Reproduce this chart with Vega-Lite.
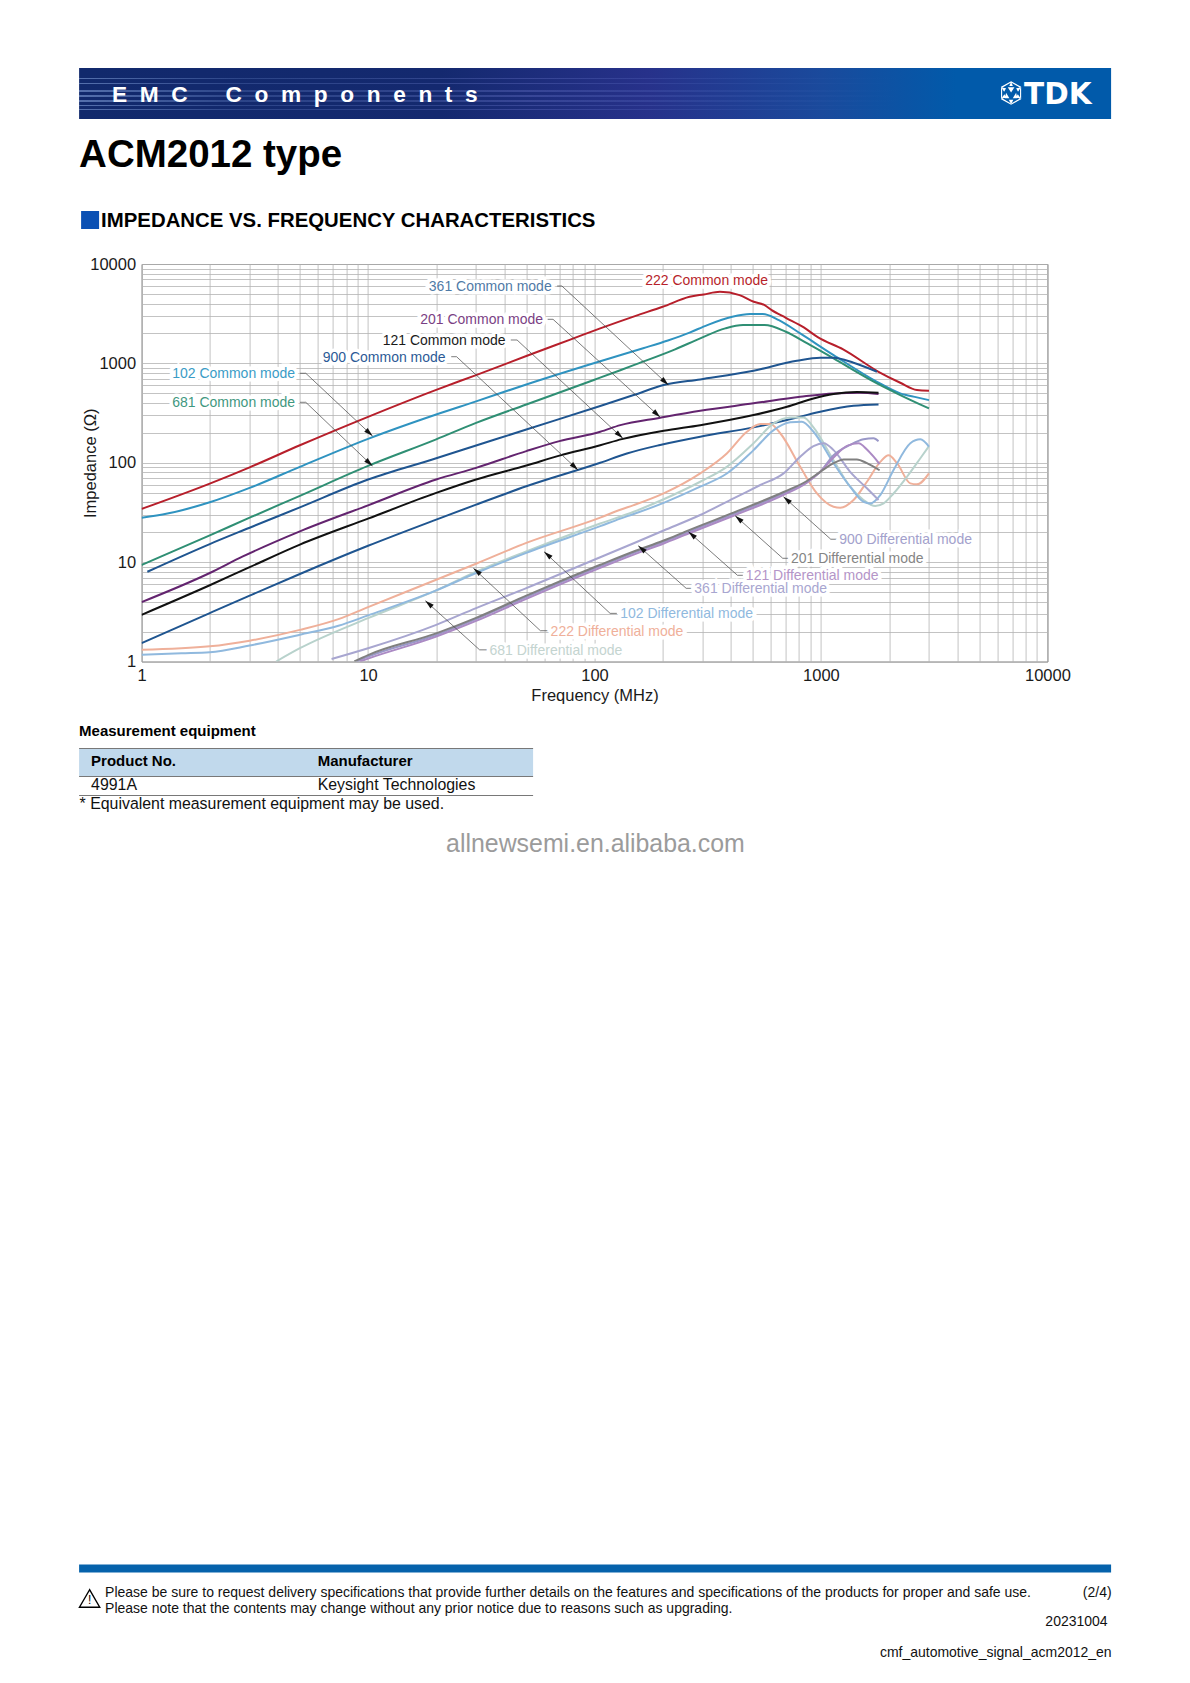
{"$schema":"https://vega.github.io/schema/vega-lite/v6.json","background":"white","padding":{"left":76.6,"top":68,"right":0,"bottom":0},"spacing":0,"bounds":"flush","config":{"view":{"stroke":null},"font":"Liberation Sans"},
"datasets":{
"curves":[
{"s":"222 Common mode","f":1,"z":34.3},{"s":"222 Common mode","f":2,"z":61.7},{"s":"222 Common mode","f":3,"z":90},{"s":"222 Common mode","f":5,"z":150},{"s":"222 Common mode","f":10,"z":290},{"s":"222 Common mode","f":20,"z":542},{"s":"222 Common mode","f":30,"z":762},{"s":"222 Common mode","f":50,"z":1185},{"s":"222 Common mode","f":78.7,"z":1745},{"s":"222 Common mode","f":106,"z":2250},{"s":"222 Common mode","f":152,"z":3010},{"s":"222 Common mode","f":200,"z":3710},{"s":"222 Common mode","f":263,"z":4680},{"s":"222 Common mode","f":304,"z":4945},{"s":"222 Common mode","f":358,"z":5250},{"s":"222 Common mode","f":437,"z":4865},{"s":"222 Common mode","f":505,"z":4170},{"s":"222 Common mode","f":564,"z":3860},{"s":"222 Common mode","f":606,"z":3440},{"s":"222 Common mode","f":700,"z":2875},{"s":"222 Common mode","f":840,"z":2300},{"s":"222 Common mode","f":972,"z":1827},{"s":"222 Common mode","f":1253,"z":1383},{"s":"222 Common mode","f":1796,"z":823},{"s":"222 Common mode","f":2240,"z":638},{"s":"222 Common mode","f":2654,"z":539},{"s":"222 Common mode","f":3000,"z":530},
{"s":"102 Common mode","f":1,"z":28},{"s":"102 Common mode","f":1.3,"z":30.8},{"s":"102 Common mode","f":2,"z":40},{"s":"102 Common mode","f":3,"z":55.8},{"s":"102 Common mode","f":5,"z":91},{"s":"102 Common mode","f":10,"z":174},{"s":"102 Common mode","f":20,"z":306},{"s":"102 Common mode","f":30,"z":415},{"s":"102 Common mode","f":50,"z":614},{"s":"102 Common mode","f":100,"z":1010},{"s":"102 Common mode","f":164,"z":1420},{"s":"102 Common mode","f":211,"z":1700},{"s":"102 Common mode","f":263,"z":2040},{"s":"102 Common mode","f":315,"z":2430},{"s":"102 Common mode","f":406,"z":2945},{"s":"102 Common mode","f":487,"z":3133},{"s":"102 Common mode","f":553,"z":3133},{"s":"102 Common mode","f":652,"z":2727},{"s":"102 Common mode","f":810,"z":2000},{"s":"102 Common mode","f":1137,"z":1212},{"s":"102 Common mode","f":1768,"z":653},{"s":"102 Common mode","f":2240,"z":499},{"s":"102 Common mode","f":2654,"z":455},{"s":"102 Common mode","f":3000,"z":427},
{"s":"681 Common mode","f":1,"z":9.35},{"s":"681 Common mode","f":2,"z":18.6},{"s":"681 Common mode","f":3,"z":28},{"s":"681 Common mode","f":5,"z":46.5},{"s":"681 Common mode","f":10,"z":93},{"s":"681 Common mode","f":20,"z":172},{"s":"681 Common mode","f":30,"z":252},{"s":"681 Common mode","f":50,"z":386},{"s":"681 Common mode","f":100,"z":685},{"s":"681 Common mode","f":130,"z":854},{"s":"681 Common mode","f":150,"z":965},{"s":"681 Common mode","f":227,"z":1383},{"s":"681 Common mode","f":293,"z":1784},{"s":"681 Common mode","f":378,"z":2250},{"s":"681 Common mode","f":453,"z":2430},{"s":"681 Common mode","f":564,"z":2430},{"s":"681 Common mode","f":700,"z":2080},{"s":"681 Common mode","f":871,"z":1587},{"s":"681 Common mode","f":1137,"z":1122},{"s":"681 Common mode","f":1768,"z":629},{"s":"681 Common mode","f":2240,"z":480},{"s":"681 Common mode","f":3000,"z":352},
{"s":"361 Common mode","f":1.06,"z":8},{"s":"361 Common mode","f":2,"z":15.2},{"s":"361 Common mode","f":3,"z":22.2},{"s":"361 Common mode","f":5,"z":35.6},{"s":"361 Common mode","f":10,"z":67.8},{"s":"361 Common mode","f":20,"z":111},{"s":"361 Common mode","f":30,"z":149},{"s":"361 Common mode","f":50,"z":216},{"s":"361 Common mode","f":106,"z":372},{"s":"361 Common mode","f":149,"z":480},{"s":"361 Common mode","f":202,"z":605},{"s":"361 Common mode","f":293,"z":690},{"s":"361 Common mode","f":504,"z":843},{"s":"361 Common mode","f":783,"z":1062},{"s":"361 Common mode","f":993,"z":1138},{"s":"361 Common mode","f":1137,"z":1138},{"s":"361 Common mode","f":1393,"z":1014},{"s":"361 Common mode","f":1768,"z":823},
{"s":"201 Common mode","f":1,"z":3.96},{"s":"201 Common mode","f":2,"z":7.77},{"s":"201 Common mode","f":2.8,"z":11.4},{"s":"201 Common mode","f":5,"z":20.4},{"s":"201 Common mode","f":10,"z":37.3},{"s":"201 Common mode","f":20,"z":67.8},{"s":"201 Common mode","f":30,"z":88.8},{"s":"201 Common mode","f":50,"z":131},{"s":"201 Common mode","f":70,"z":165},{"s":"201 Common mode","f":106,"z":205},{"s":"201 Common mode","f":130,"z":239},{"s":"201 Common mode","f":195,"z":284},{"s":"201 Common mode","f":293,"z":334},{"s":"201 Common mode","f":504,"z":396},{"s":"201 Common mode","f":810,"z":461},{"s":"201 Common mode","f":1137,"z":499},{"s":"201 Common mode","f":1492,"z":507},{"s":"201 Common mode","f":1796,"z":491},
{"s":"121 Common mode","f":1,"z":2.95},{"s":"121 Common mode","f":2,"z":5.85},{"s":"121 Common mode","f":3,"z":8.9},{"s":"121 Common mode","f":5,"z":15},{"s":"121 Common mode","f":10,"z":27.4},{"s":"121 Common mode","f":20,"z":49.7},{"s":"121 Common mode","f":30,"z":67.8},{"s":"121 Common mode","f":50,"z":93.7},{"s":"121 Common mode","f":70,"z":118},{"s":"121 Common mode","f":106,"z":150},{"s":"121 Common mode","f":132,"z":173},{"s":"121 Common mode","f":202,"z":210},{"s":"121 Common mode","f":293,"z":239},{"s":"121 Common mode","f":504,"z":302},{"s":"121 Common mode","f":708,"z":366},{"s":"121 Common mode","f":927,"z":444},{"s":"121 Common mode","f":1137,"z":491},{"s":"121 Common mode","f":1442,"z":514},{"s":"121 Common mode","f":1796,"z":507},
{"s":"900 Common mode","f":1,"z":1.53},{"s":"900 Common mode","f":2,"z":3.07},{"s":"900 Common mode","f":3,"z":4.6},{"s":"900 Common mode","f":5,"z":7.6},{"s":"900 Common mode","f":10,"z":14.6},{"s":"900 Common mode","f":20,"z":26.8},{"s":"900 Common mode","f":30,"z":37.9},{"s":"900 Common mode","f":50,"z":58},{"s":"900 Common mode","f":106,"z":100},{"s":"900 Common mode","f":139,"z":124},{"s":"900 Common mode","f":195,"z":151},{"s":"900 Common mode","f":293,"z":183},{"s":"900 Common mode","f":504,"z":227},{"s":"900 Common mode","f":708,"z":269},{"s":"900 Common mode","f":993,"z":326},{"s":"900 Common mode","f":1393,"z":374},{"s":"900 Common mode","f":1796,"z":386},
{"s":"222 Differential mode","f":1,"z":1.31},{"s":"222 Differential mode","f":2,"z":1.42},{"s":"222 Differential mode","f":3,"z":1.62},{"s":"222 Differential mode","f":5,"z":2.08},{"s":"222 Differential mode","f":7.4,"z":2.67},{"s":"222 Differential mode","f":10,"z":3.53},{"s":"222 Differential mode","f":20,"z":6.65},{"s":"222 Differential mode","f":30,"z":9.64},{"s":"222 Differential mode","f":50,"z":15.6},{"s":"222 Differential mode","f":106,"z":28},{"s":"222 Differential mode","f":130,"z":33.7},{"s":"222 Differential mode","f":149,"z":37.5},{"s":"222 Differential mode","f":202,"z":49.2},{"s":"222 Differential mode","f":293,"z":78.2},{"s":"222 Differential mode","f":384,"z":124},{"s":"222 Differential mode","f":471,"z":205},{"s":"222 Differential mode","f":540,"z":245},{"s":"222 Differential mode","f":597,"z":245},{"s":"222 Differential mode","f":661,"z":198},{"s":"222 Differential mode","f":810,"z":91},{"s":"222 Differential mode","f":960,"z":49.2},{"s":"222 Differential mode","f":1137,"z":36.1},{"s":"222 Differential mode","f":1217,"z":35.3},{"s":"222 Differential mode","f":1393,"z":42.2},{"s":"222 Differential mode","f":1596,"z":64.4},{"s":"222 Differential mode","f":1828,"z":102},{"s":"222 Differential mode","f":1989,"z":119},{"s":"222 Differential mode","f":2168,"z":99},{"s":"222 Differential mode","f":2482,"z":62},{"s":"222 Differential mode","f":2654,"z":60.6},{"s":"222 Differential mode","f":3000,"z":78.2},
{"s":"681 Differential mode","f":3.93,"z":1},{"s":"681 Differential mode","f":5,"z":1.36},{"s":"681 Differential mode","f":10,"z":2.73},{"s":"681 Differential mode","f":20,"z":5.19},{"s":"681 Differential mode","f":30,"z":8},{"s":"681 Differential mode","f":50,"z":12.8},{"s":"681 Differential mode","f":106,"z":24.5},{"s":"681 Differential mode","f":149,"z":32.1},{"s":"681 Differential mode","f":202,"z":42.9},{"s":"681 Differential mode","f":293,"z":64.4},{"s":"681 Differential mode","f":384,"z":91},{"s":"681 Differential mode","f":504,"z":157},{"s":"681 Differential mode","f":618,"z":249},{"s":"681 Differential mode","f":732,"z":286},{"s":"681 Differential mode","f":838,"z":286},{"s":"681 Differential mode","f":927,"z":227},{"s":"681 Differential mode","f":1137,"z":106},{"s":"681 Differential mode","f":1346,"z":57.4},{"s":"681 Differential mode","f":1542,"z":42.2},{"s":"681 Differential mode","f":1738,"z":36.7},{"s":"681 Differential mode","f":1891,"z":39},{"s":"681 Differential mode","f":2092,"z":49},{"s":"681 Differential mode","f":2399,"z":72.3},{"s":"681 Differential mode","f":2748,"z":111},{"s":"681 Differential mode","f":3000,"z":147},
{"s":"102 Differential mode","f":1,"z":1.17},{"s":"102 Differential mode","f":1.5,"z":1.21},{"s":"102 Differential mode","f":2,"z":1.24},{"s":"102 Differential mode","f":3,"z":1.45},{"s":"102 Differential mode","f":5,"z":1.86},{"s":"102 Differential mode","f":7.4,"z":2.29},{"s":"102 Differential mode","f":10,"z":2.91},{"s":"102 Differential mode","f":20,"z":5.19},{"s":"102 Differential mode","f":30,"z":7.77},{"s":"102 Differential mode","f":50,"z":12.4},{"s":"102 Differential mode","f":106,"z":23},{"s":"102 Differential mode","f":130,"z":27.4},{"s":"102 Differential mode","f":149,"z":30.5},{"s":"102 Differential mode","f":202,"z":39.5},{"s":"102 Differential mode","f":293,"z":57.4},{"s":"102 Differential mode","f":384,"z":78},{"s":"102 Differential mode","f":504,"z":134},{"s":"102 Differential mode","f":618,"z":213},{"s":"102 Differential mode","f":732,"z":255},{"s":"102 Differential mode","f":824,"z":259},{"s":"102 Differential mode","f":927,"z":205},{"s":"102 Differential mode","f":1137,"z":99},{"s":"102 Differential mode","f":1346,"z":57.4},{"s":"102 Differential mode","f":1542,"z":40.5},{"s":"102 Differential mode","f":1651,"z":39},{"s":"102 Differential mode","f":1828,"z":47.3},{"s":"102 Differential mode","f":2092,"z":84.4},{"s":"102 Differential mode","f":2482,"z":157},{"s":"102 Differential mode","f":2748,"z":172},{"s":"102 Differential mode","f":3000,"z":145},
{"s":"900 Differential mode","f":6.9,"z":1.06},{"s":"900 Differential mode","f":10,"z":1.36},{"s":"900 Differential mode","f":20,"z":2.34},{"s":"900 Differential mode","f":30,"z":3.45},{"s":"900 Differential mode","f":50,"z":5.48},{"s":"900 Differential mode","f":106,"z":11.2},{"s":"900 Differential mode","f":149,"z":15.5},{"s":"900 Differential mode","f":202,"z":20.8},{"s":"900 Differential mode","f":293,"z":29.8},{"s":"900 Differential mode","f":411,"z":43.8},{"s":"900 Differential mode","f":540,"z":59.7},{"s":"900 Differential mode","f":684,"z":78.2},{"s":"900 Differential mode","f":810,"z":115},{"s":"900 Differential mode","f":927,"z":147},{"s":"900 Differential mode","f":1028,"z":157},{"s":"900 Differential mode","f":1137,"z":134},{"s":"900 Differential mode","f":1346,"z":81},{"s":"900 Differential mode","f":1596,"z":55.3},{"s":"900 Differential mode","f":1796,"z":42.2},
{"s":"361 Differential mode","f":8.9,"z":1},{"s":"361 Differential mode","f":10,"z":1.12},{"s":"361 Differential mode","f":20,"z":1.85},{"s":"361 Differential mode","f":30,"z":2.67},{"s":"361 Differential mode","f":50,"z":4.45},{"s":"361 Differential mode","f":106,"z":9.1},{"s":"361 Differential mode","f":149,"z":12.4},{"s":"361 Differential mode","f":202,"z":16},{"s":"361 Differential mode","f":260,"z":20.2},{"s":"361 Differential mode","f":411,"z":30.5},{"s":"361 Differential mode","f":684,"z":49.2},{"s":"361 Differential mode","f":867,"z":64.4},{"s":"361 Differential mode","f":993,"z":81},{"s":"361 Differential mode","f":1137,"z":119},{"s":"361 Differential mode","f":1346,"z":151},{"s":"361 Differential mode","f":1542,"z":172},{"s":"361 Differential mode","f":1708,"z":176},{"s":"361 Differential mode","f":1796,"z":165},
{"s":"121 Differential mode","f":9.2,"z":1},{"s":"121 Differential mode","f":10,"z":1.07},{"s":"121 Differential mode","f":20,"z":1.78},{"s":"121 Differential mode","f":30,"z":2.56},{"s":"121 Differential mode","f":50,"z":4.27},{"s":"121 Differential mode","f":106,"z":8.75},{"s":"121 Differential mode","f":149,"z":11.9},{"s":"121 Differential mode","f":202,"z":15.4},{"s":"121 Differential mode","f":260,"z":19.4},{"s":"121 Differential mode","f":411,"z":29.3},{"s":"121 Differential mode","f":684,"z":47.4},{"s":"121 Differential mode","f":867,"z":63},{"s":"121 Differential mode","f":993,"z":81},{"s":"121 Differential mode","f":1137,"z":113},{"s":"121 Differential mode","f":1303,"z":148},{"s":"121 Differential mode","f":1466,"z":157},{"s":"121 Differential mode","f":1596,"z":136},{"s":"121 Differential mode","f":1708,"z":115},{"s":"121 Differential mode","f":1815,"z":97},
{"s":"201 Differential mode","f":8.7,"z":1},{"s":"201 Differential mode","f":10,"z":1.16},{"s":"201 Differential mode","f":20,"z":1.92},{"s":"201 Differential mode","f":30,"z":2.75},{"s":"201 Differential mode","f":50,"z":4.6},{"s":"201 Differential mode","f":106,"z":9.4},{"s":"201 Differential mode","f":149,"z":12.8},{"s":"201 Differential mode","f":202,"z":16.5},{"s":"201 Differential mode","f":260,"z":20.9},{"s":"201 Differential mode","f":411,"z":31.5},{"s":"201 Differential mode","f":684,"z":50.8},{"s":"201 Differential mode","f":867,"z":65.5},{"s":"201 Differential mode","f":993,"z":81},{"s":"201 Differential mode","f":1137,"z":99},{"s":"201 Differential mode","f":1259,"z":108},{"s":"201 Differential mode","f":1442,"z":108},{"s":"201 Differential mode","f":1596,"z":99},{"s":"201 Differential mode","f":1815,"z":84}
],
"leaders":[
{"n":"361 CM","k":"C","o":1,"f":68.4,"z":6005},{"n":"361 CM","k":"C","o":2,"f":71.8,"z":6005},{"n":"361 CM","k":"C","o":3,"f":212,"z":606},
{"n":"201 CM","k":"C","o":1,"f":62.1,"z":2777},{"n":"201 CM","k":"C","o":2,"f":65.6,"z":2777},{"n":"201 CM","k":"C","o":3,"f":195,"z":287},
{"n":"121 CM","k":"C","o":1,"f":42.7,"z":1719},{"n":"121 CM","k":"C","o":2,"f":45.5,"z":1719},{"n":"121 CM","k":"C","o":3,"f":133.4,"z":176},
{"n":"900 CM","k":"C","o":1,"f":23.3,"z":1167},{"n":"900 CM","k":"C","o":2,"f":24.6,"z":1167},{"n":"900 CM","k":"C","o":3,"f":84.6,"z":84.5},
{"n":"102 CM","k":"C","o":1,"f":5.01,"z":795},{"n":"102 CM","k":"C","o":2,"f":5.31,"z":795},{"n":"102 CM","k":"C","o":3,"f":10.47,"z":186},
{"n":"681 CM","k":"C","o":1,"f":5.01,"z":406},{"n":"681 CM","k":"C","o":2,"f":5.31,"z":406},{"n":"681 CM","k":"C","o":3,"f":10.47,"z":92.7},
{"n":"222 DM","k":"D","o":1,"f":62.1,"z":2.04},{"n":"222 DM","k":"D","o":2,"f":57.7,"z":2.04},{"n":"222 DM","k":"D","o":3,"f":29.2,"z":8.67},
{"n":"681 DM","k":"D","o":1,"f":33.5,"z":1.31},{"n":"681 DM","k":"D","o":2,"f":31.1,"z":1.31},{"n":"681 DM","k":"D","o":3,"f":17.9,"z":4.09},
{"n":"102 DM","k":"D","o":1,"f":125.5,"z":3.05},{"n":"102 DM","k":"D","o":2,"f":117.2,"z":3.05},{"n":"102 DM","k":"D","o":3,"f":59.9,"z":12.73},
{"n":"361 DM","k":"D","o":1,"f":269,"z":5.45},{"n":"361 DM","k":"D","o":2,"f":254,"z":5.45},{"n":"361 DM","k":"D","o":3,"f":156,"z":14.63},
{"n":"121 DM","k":"D","o":1,"f":452,"z":7.37},{"n":"121 DM","k":"D","o":2,"f":428,"z":7.37},{"n":"121 DM","k":"D","o":3,"f":260,"z":20.2},
{"n":"201 DM","k":"D","o":1,"f":718,"z":10.93},{"n":"201 DM","k":"D","o":2,"f":678,"z":10.93},{"n":"201 DM","k":"D","o":3,"f":418,"z":29.3},
{"n":"900 DM","k":"D","o":1,"f":1175,"z":17},{"n":"900 DM","k":"D","o":2,"f":1105,"z":17},{"n":"900 DM","k":"D","o":3,"f":683,"z":45.5}
],
"labelsC":[
{"s":"222 Common mode","f":584,"z":6900},{"s":"361 Common mode","f":64.7,"z":6005},{"s":"201 Common mode","f":59.3,"z":2777},{"s":"121 Common mode","f":40.5,"z":1719},{"s":"900 Common mode","f":22,"z":1167},{"s":"102 Common mode","f":4.76,"z":795},{"s":"681 Common mode","f":4.76,"z":406}
],
"labelsD":[
{"s":"222 Differential mode","f":64,"z":2.04},{"s":"681  Differential mode","f":34.4,"z":1.31},{"s":"102 Differential mode","f":130,"z":3.05},{"s":"361 Differential mode","f":276,"z":5.45},{"s":"121 Differential mode","f":466,"z":7.37},{"s":"201 Differential mode","f":737,"z":10.93},{"s":"900 Differential mode","f":1205,"z":17}
]
},
"vconcat":[
{"width":905.8,"height":196,
"encoding":{"x":{"field":"px","type":"quantitative","scale":{"domain":[0,1190],"range":[-141.5,1048.5],"nice":false,"zero":false},"axis":null},"y":{"field":"py","type":"quantitative","scale":{"domain":[68,264],"range":[0,196],"nice":false,"zero":false},"axis":null}},
"layer":[
{"data":{"values":[{"px":79,"px2":1111,"py":68,"py2":119}]},"mark":{"type":"rect","fill":{"gradient":"linear","x1":0,"y1":0,"x2":1,"y2":0,"stops":[{"offset":0,"color":"#11296c"},{"offset":0.35,"color":"#14296f"},{"offset":0.55,"color":"#27318a"},{"offset":0.72,"color":"#1a4a9c"},{"offset":0.85,"color":"#015aaa"},{"offset":1,"color":"#015aaa"}]}},"encoding":{"x2":{"field":"px2"},"y2":{"field":"py2"}}},
{"data":{"values":[{"px":79,"px2":900,"py":78,"py2":79},{"px":79,"px2":900,"py":83,"py2":84},{"px":79,"px2":900,"py":90,"py2":92},{"px":79,"px2":900,"py":95,"py2":97},{"px":79,"px2":900,"py":100,"py2":102},{"px":79,"px2":900,"py":105,"py2":106},{"px":79,"px2":900,"py":109,"py2":110}]},"mark":{"type":"rect","fill":{"gradient":"linear","x1":0,"y1":0,"x2":1,"y2":0,"stops":[{"offset":0,"color":"rgba(140,170,225,0.55)"},{"offset":0.2,"color":"rgba(120,150,215,0.25)"},{"offset":0.55,"color":"rgba(120,130,215,0.3)"},{"offset":1,"color":"rgba(80,120,200,0)"}]}},"encoding":{"x2":{"field":"px2"},"y2":{"field":"py2"}}},
{"data":{"values":[{"t":"E\u00a0\u00a0M\u00a0\u00a0C\u00a0\u00a0\u00a0\u00a0\u00a0\u00a0C\u00a0\u00a0o\u00a0\u00a0m\u00a0\u00a0p\u00a0\u00a0o\u00a0\u00a0n\u00a0\u00a0e\u00a0\u00a0n\u00a0\u00a0t\u00a0\u00a0s","px":112,"py":95}]},"mark":{"type":"text","align":"left","baseline":"middle","font":"Liberation Sans","fontWeight":"bold","fontSize":22.7,"color":"white"},"encoding":{"text":{"field":"t"}}},
{"data":{"values":[{"t":"TDK","px":1024,"py":95}]},"mark":{"type":"text","align":"left","baseline":"middle","font":"DejaVu Sans","fontWeight":"bold","fontSize":29.5,"color":"white"},"encoding":{"text":{"field":"t"}}},
{"data":{"values":[{"px":1011,"py":93}]},"mark":{"type":"point","filled":true,"color":"white","opacity":1,"size":500,"shape":"M0,-1 L.16,-.62 L-.16,-.62 Z M.87,-.5 L.45,-.42 L.62,-.12 Z M.87,.5 L.6,.12 L.42,.42 Z M0,1 L.2,.6 L-.2,.6 Z M-.87,.5 L-.42,.42 L-.6,.12 Z M-.87,-.5 L-.62,-.12 L-.45,-.42 Z M-.3,-.52 L.3,-.52 L0,-.05 Z M.45,-.02 L.15,.46 L.55,.46 Z M-.45,-.02 L-.55,.46 L-.15,.46 Z M-.9,-.55 L0,-1.05 L.9,-.55 L.9,.55 L0,1.05 L-.9,.55 Z M-.8,-.48 L-.8,.48 L0,.94 L.8,.48 L.8,-.48 L0,-.94 Z"}},
{"data":{"values":[{"t":"ACM2012 type","px":79,"py":155}]},"mark":{"type":"text","align":"left","baseline":"middle","font":"Liberation Sans","fontWeight":"bold","fontSize":38.5,"color":"#000"},"encoding":{"text":{"field":"t"}}},
{"data":{"values":[{"px":81,"px2":99,"py":211,"py2":229}]},"mark":{"type":"rect","fill":"#0a50b4"},"encoding":{"x2":{"field":"px2"},"y2":{"field":"py2"}}},
{"data":{"values":[{"t":"IMPEDANCE VS. FREQUENCY CHARACTERISTICS","px":101,"py":221}]},"mark":{"type":"text","align":"left","baseline":"middle","font":"Liberation Sans","fontWeight":"bold","fontSize":20.4,"color":"#000"},"encoding":{"text":{"field":"t"}}}
]},
{"width":905.8,"height":397.5,"view":{"stroke":"#7d7d7d","strokeWidth":1},
"encoding":{
"x":{"field":"f","type":"quantitative","scale":{"type":"log","domain":[1,10000],"nice":false},"axis":{"title":"Frequency (MHz)","values":[1,2,3,4,5,6,7,8,9,10,20,30,40,50,60,70,80,90,100,200,300,400,500,600,700,800,900,1000,2000,3000,4000,5000,6000,7000,8000,9000,10000],"labelExpr":"indexof([1,10,100,1000,10000],datum.value)>=0?format(datum.value,'d'):''","labelOverlap":false,"labelFlush":false,"ticks":false,"domain":false,"grid":true,"gridColor":"#b4b4b4","gridWidth":0.8,"labelFont":"Liberation Sans","labelFontSize":16.5,"labelColor":"#1a1a1a","labelPadding":6,"titleFont":"Liberation Sans","titleFontSize":16.5,"titleFontWeight":"normal","titleColor":"#1a1a1a","titlePadding":3}},
"y":{"field":"z","type":"quantitative","scale":{"type":"log","domain":[1,10000],"nice":false},"axis":{"title":"Impedance (Ω)","values":[1,2,3,4,5,6,7,8,9,10,20,30,40,50,60,70,80,90,100,200,300,400,500,600,700,800,900,1000,2000,3000,4000,5000,6000,7000,8000,9000,10000],"labelExpr":"indexof([1,10,100,1000,10000],datum.value)>=0?format(datum.value,'d'):''","labelOverlap":false,"labelFlush":false,"ticks":false,"domain":false,"grid":true,"gridColor":"#b4b4b4","gridWidth":0.8,"labelFont":"Liberation Sans","labelFontSize":16.5,"labelColor":"#1a1a1a","labelPadding":6,"titleFont":"Liberation Sans","titleFontSize":16.5,"titleFontWeight":"normal","titleColor":"#1a1a1a","titlePadding":-9}}
},
"resolve":{"scale":{"color":"independent"}},
"layer":[
{"data":{"name":"curves"},"mark":{"type":"line","interpolate":"monotone","strokeWidth":2,"clip":true},"encoding":{"order":{"field":"f","type":"quantitative"},"color":{"field":"s","type":"nominal","legend":null,"scale":{"domain":["222 Common mode","102 Common mode","681 Common mode","361 Common mode","201 Common mode","121 Common mode","900 Common mode","201 Differential mode","361 Differential mode","121 Differential mode","900 Differential mode","681 Differential mode","102 Differential mode","222 Differential mode"],"range":["#b71f2b","#2f93c0","#2f8f74","#1f5590","#63246f","#111111","#1f5590","#808080","#9a98c8","#ab8ac4","#a8a6d0","#b8d2cc","#90b9de","#efb09a"]}}}},
{"data":{"name":"leaders"},"mark":{"type":"line","color":"#444","strokeWidth":0.7},"encoding":{"detail":{"field":"n"},"order":{"field":"o","type":"ordinal"}}},
{"data":{"name":"leaders"},"transform":[{"filter":"datum.o==3&&datum.k=='C'"}],"mark":{"type":"point","shape":"M0,0 L.5,1.8 L-.5,1.8 Z","filled":true,"color":"#111","opacity":1,"size":100,"angle":133}},
{"data":{"name":"leaders"},"transform":[{"filter":"datum.o==3&&datum.k=='D'"}],"mark":{"type":"point","shape":"M0,0 L.5,1.8 L-.5,1.8 Z","filled":true,"color":"#111","opacity":1,"size":100,"angle":311}},
{"data":{"name":"labelsC"},"transform":[{"filter":"datum.s!='222 Common mode'"}],"mark":{"type":"text","align":"right","baseline":"middle","dy":1,"font":"Liberation Sans","fontSize":14,"stroke":"white","strokeWidth":7,"fill":"white"},"encoding":{"text":{"field":"s"}}},
{"data":{"name":"labelsC"},"transform":[{"filter":"datum.s!='222 Common mode'"}],"mark":{"type":"text","align":"right","baseline":"middle","dy":1,"font":"Liberation Sans","fontSize":14},"encoding":{"text":{"field":"s"},"color":{"field":"s","type":"nominal","legend":null,"scale":{"domain":["361 Common mode","201 Common mode","121 Common mode","900 Common mode","102 Common mode","681 Common mode"],"range":["#4f7aa6","#7a3f84","#1a1a1a","#2c5a96","#3a9cc6","#3f9880"]}}}},
{"data":{"name":"labelsC"},"transform":[{"filter":"datum.s=='222 Common mode'"}],"mark":{"type":"text","align":"right","baseline":"middle","dy":1,"font":"Liberation Sans","fontSize":14,"stroke":"white","strokeWidth":7,"fill":"white"},"encoding":{"text":{"field":"s"}}},
{"data":{"name":"labelsC"},"transform":[{"filter":"datum.s=='222 Common mode'"}],"mark":{"type":"text","align":"right","baseline":"middle","dy":1,"font":"Liberation Sans","fontSize":14,"color":"#b71f2b"},"encoding":{"text":{"field":"s"}}},
{"data":{"name":"labelsD"},"mark":{"type":"text","align":"left","baseline":"middle","dy":1,"font":"Liberation Sans","fontSize":14,"stroke":"white","strokeWidth":7,"fill":"white"},"encoding":{"text":{"field":"s"}}},
{"data":{"name":"labelsD"},"mark":{"type":"text","align":"left","baseline":"middle","dy":1,"font":"Liberation Sans","fontSize":14},"encoding":{"text":{"field":"s"},"color":{"field":"s","type":"nominal","legend":null,"scale":{"domain":["222 Differential mode","681  Differential mode","102 Differential mode","361 Differential mode","121 Differential mode","201 Differential mode","900 Differential mode"],"range":["#efb09a","#c4d4d0","#90b9de","#a8a6d0","#b495c8","#858585","#a3a1cc"]}}}}
]},
{"width":905.8,"height":1021.5,
"encoding":{"x":{"field":"px","type":"quantitative","scale":{"domain":[0,1190],"range":[-141.5,1048.5],"nice":false,"zero":false},"axis":null},"y":{"field":"py","type":"quantitative","scale":{"domain":[661.5,1683],"range":[0,1021.5],"nice":false,"zero":false},"axis":null}},
"layer":[
{"data":{"values":[{"px":79,"px2":533,"py":748,"py2":776}]},"mark":{"type":"rect","fill":"#c1d9ec"},"encoding":{"x2":{"field":"px2"},"y2":{"field":"py2"}}},
{"data":{"values":[{"px":79,"px2":533,"py":748},{"px":79,"px2":533,"py":776},{"px":79,"px2":533,"py":795}]},"mark":{"type":"rule","color":"#777","strokeWidth":1},"encoding":{"x2":{"field":"px2"}}},
{"data":{"values":[{"t":"Measurement equipment","px":79,"py":730},{"t":"Product No.","px":91,"py":760},{"t":"Manufacturer","px":317.6,"py":760}]},"mark":{"type":"text","align":"left","baseline":"middle","fontWeight":"bold","font":"Liberation Sans","fontSize":15,"color":"#000"},"encoding":{"text":{"field":"t"}}},
{"data":{"values":[{"t":"4991A","px":91,"py":784},{"t":"Keysight Technologies","px":317.6,"py":784},{"t":"* Equivalent measurement equipment may be used.","px":79.5,"py":803}]},"mark":{"type":"text","align":"left","baseline":"middle","font":"Liberation Sans","fontSize":15.9,"color":"#111"},"encoding":{"text":{"field":"t"}}},
{"data":{"values":[{"t":"allnewsemi.en.alibaba.com","px":446,"py":844.5}]},"mark":{"type":"text","align":"left","baseline":"middle","font":"Liberation Sans","fontSize":24.9,"color":"#9b9b9b"},"encoding":{"text":{"field":"t"}}},
{"data":{"values":[{"px":79,"px2":1111,"py":1564,"py2":1572}]},"mark":{"type":"rect","fill":"#0562ab"},"encoding":{"x2":{"field":"px2"},"y2":{"field":"py2"}}},
{"data":{"values":[{"px":89.5,"py":1598}]},"mark":{"type":"point","shape":"triangle-up","filled":false,"stroke":"#000","strokeWidth":1.4,"opacity":1,"size":410}},
{"data":{"values":[{"t":"!","px":89.5,"py":1599.5}]},"mark":{"type":"text","align":"center","baseline":"middle","font":"Liberation Sans","fontSize":12,"color":"#000"},"encoding":{"text":{"field":"t"}}},
{"data":{"values":[{"t":"Please be sure to request delivery specifications that provide further details on the features and specifications of the products for proper and safe use.","px":105,"py":1592.5},{"t":"Please note that the contents may change without any prior notice due to reasons such as upgrading.","px":105,"py":1608.5}]},"mark":{"type":"text","align":"left","baseline":"middle","font":"Liberation Sans","fontSize":14,"color":"#111"},"encoding":{"text":{"field":"t"}}},
{"data":{"values":[{"t":"(2/4)","px":1111.5,"py":1592.5},{"t":"20231004","px":1107.5,"py":1621.5},{"t":"cmf_automotive_signal_acm2012_en","px":1111.5,"py":1652.5}]},"mark":{"type":"text","align":"right","baseline":"middle","font":"Liberation Sans","fontSize":14,"color":"#111"},"encoding":{"text":{"field":"t"}}}
]}
]}
